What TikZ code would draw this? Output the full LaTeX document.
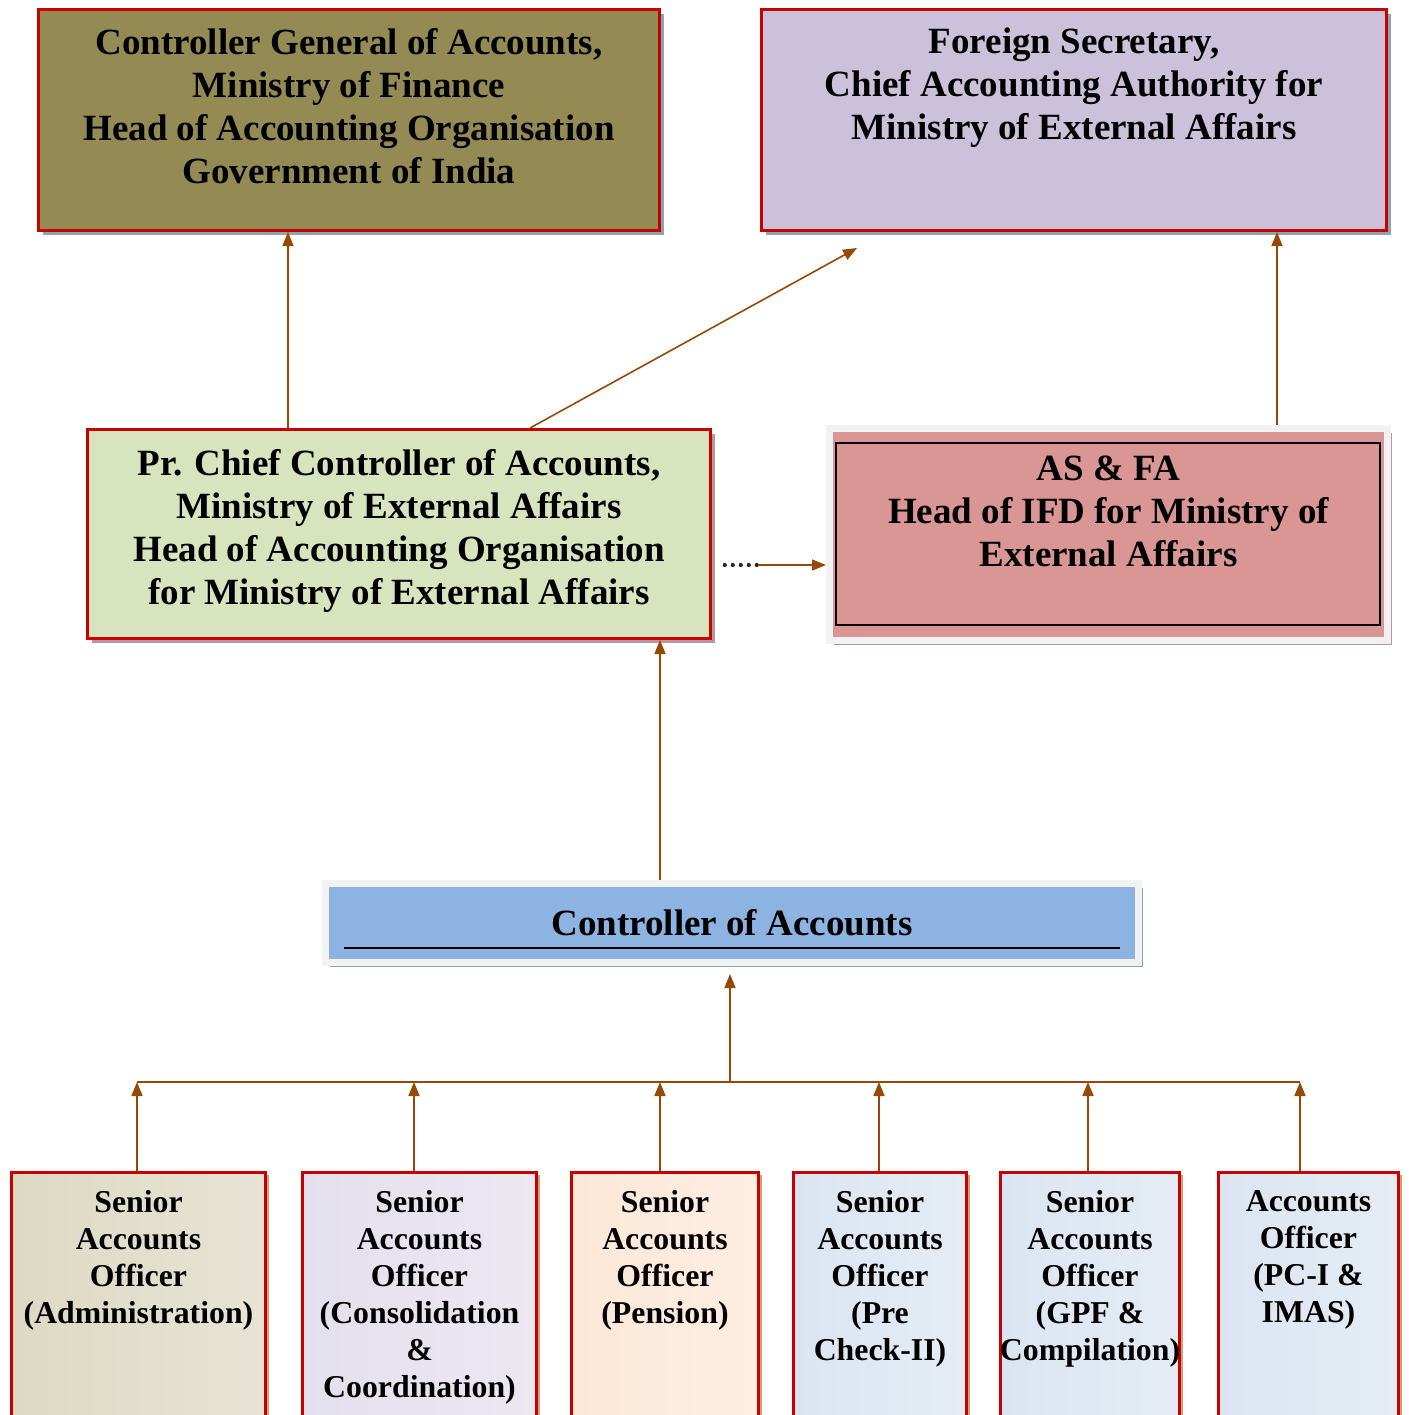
\documentclass[tikz,border=0pt]{standalone}
\usepackage{fontspec}
\setmainfont{Liberation Serif}
\usetikzlibrary{arrows.meta,shadows}

\begin{document}
\begin{tikzpicture}[x=0.5pt,y=-0.5pt]
            \definecolor{olivebox}{RGB}{148,138,84}
            \definecolor{lilacbox}{RGB}{204,193,218}
            \definecolor{greenbox}{RGB}{215,228,189}
            \definecolor{pinkbox}{RGB}{217,150,148}
            \definecolor{bluebox}{RGB}{141,179,226}
            \definecolor{boxred}{RGB}{200,0,0}
            \definecolor{arrowbrown}{RGB}{151,72,6}
            \definecolor{shadowblue}{RGB}{140,165,178}
            \definecolor{shadowmauve}{RGB}{185,150,158}
            \definecolor{shadowtan}{RGB}{210,160,120}
            \tikzstyle{posts} = [rectangle, draw=boxred, line width=1.5pt, inner sep=0pt]
            \tikzstyle{framed} = [rectangle, draw=gray!10, line width=3.5pt, inner sep=0pt]
            \tikzstyle{blueshadow} = [drop shadow={shadow xshift=2.25pt, shadow yshift=-2.25pt, fill=shadowblue, opacity=1}]
            \tikzstyle{mauveshadow} = [drop shadow={shadow xshift=2.25pt, shadow yshift=-2.25pt, fill=shadowmauve, opacity=1}]
            \tikzstyle{tanshadow} = [drop shadow={shadow xshift=1.5pt, shadow yshift=-1.5pt, fill=shadowtan, opacity=1}]
            \tikzstyle{lbl} = [anchor=north, align=center, inner sep=0pt,
                font=\fontsize{18.5}{21.5}\selectfont\bfseries]
            \tikzstyle{smalllbl} = [anchor=north, align=center, inner sep=0pt,
                font=\fontsize{15.9}{18.5}\selectfont\bfseries]
            \tikzstyle{officer} = [posts, tanshadow, anchor=north, minimum height=140pt]
            \tikzstyle{arrow} = [line width=0.8pt, arrowbrown, -{Triangle[length=7pt,width=5.5pt]}]
            \tikzstyle{busline} = [line width=0.8pt, arrowbrown]
            \tikzstyle{dots} = [line width=2.1pt, black!85, line cap=round, dash pattern=on 0pt off 4pt]

            \useasboundingbox (0,0) rectangle (1409,1415);
            \clip (0,0) rectangle (1409,1415);

            % top row
            \node (cga)[posts, blueshadow, fill=olivebox, minimum width=310.5pt, minimum height=110.5pt,
                label={[lbl, yshift=-9.9pt]north:{Controller General of Accounts,\\Ministry of Finance\\Head of Accounting Organisation\\Government of India}}] at (349,120) {};
            \node (fs)[posts, blueshadow, fill=lilacbox, minimum width=312.5pt, minimum height=110.5pt,
                label={[lbl, yshift=-9.9pt]north:{Foreign Secretary,\\Chief Accounting Authority for\\Ministry of External Affairs}}] at (1074,120) {};

            % middle row
            \node (pcca)[posts, mauveshadow, fill=greenbox, minimum width=311.5pt, minimum height=104.5pt,
                label={[lbl, yshift=-10.4pt]north:{Pr. Chief Controller of Accounts,\\Ministry of External Affairs\\Head of Accounting Organisation\\for Ministry of External Affairs}}] at (399,534) {};
            \node (asfa)[framed, mauveshadow, fill=pinkbox, minimum width=279pt, minimum height=106.25pt,
                label={[lbl, yshift=-15.5pt]north:{AS \& FA\\Head of IFD for Ministry of\\External Affairs}}] at (1108.5,534.25) {};
            \draw [black, line width=1pt] ([shift={(-272.5,-91)}]asfa.center) rectangle ([shift={(271.5,91)}]asfa.center);

            % controller of accounts
            \node (coa)[framed, blueshadow, fill=bluebox, minimum width=406.5pt, minimum height=39.5pt,
                font=\fontsize{18.5}{21.5}\selectfont\bfseries] at (732,923) {Controller of Accounts};
            \draw [black, line width=1pt] ([shift={(-388,25)}]coa.center) -- ([shift={(388,25)}]coa.center);

            % sections
            \node (b1)[officer, left color={rgb,255:red,221;green,217;blue,195}, right color={rgb,255:red,231;green,228;blue,213},
                minimum width=127pt, label={[smalllbl, yshift=-9.75pt]north:{Senior\\Accounts\\Officer\\(Administration)}}] at (138.5,1170.5) {};
            \node (b2)[officer, left color={rgb,255:red,228;green,223;blue,236}, right color={rgb,255:red,236;green,232;blue,242},
                minimum width=117pt, label={[smalllbl, yshift=-9.75pt]north:{Senior\\Accounts\\Officer\\(Consolidation\\\&\\Coordination)}}] at (419.5,1170.5) {};
            \node (b3)[officer, left color={rgb,255:red,252;green,232;blue,216}, right color={rgb,255:red,253;green,238;blue,226},
                minimum width=93.5pt, label={[smalllbl, yshift=-9.75pt]north:{Senior\\Accounts\\Officer\\(Pension)}}] at (665,1170.5) {};
            \node (b4)[officer, left color={rgb,255:red,219;green,229;blue,241}, right color={rgb,255:red,229;green,236;blue,245},
                minimum width=86.5pt, label={[smalllbl, yshift=-9.75pt]north:{Senior\\Accounts\\Officer\\(Pre\\Check-II)}}] at (880,1170.5) {};
            \node (b5)[officer, left color={rgb,255:red,219;green,229;blue,241}, right color={rgb,255:red,229;green,236;blue,245},
                minimum width=89.5pt, label={[smalllbl, yshift=-9.75pt]north:{Senior\\Accounts\\Officer\\(GPF \&\\Compilation)}}] at (1090,1170.5) {};
            \node (b6)[officer, left color={rgb,255:red,219;green,229;blue,241}, right color={rgb,255:red,229;green,236;blue,245},
                minimum width=90pt, label={[smalllbl, yshift=-9.75pt]north:{Accounts\\Officer\\(PC-I \&\\IMAS)}}] at (1308.5,1170.5) {};

            % reporting lines
            \coordinate (upcga) at (288,0);
            \coordinate (diag) at (530,0);
            \coordinate (upfs) at (857,248);
            \coordinate (upasfa) at (1277,0);
            \coordinate (upcoa) at (660,0);
            \coordinate (dotend) at (758,565);
            \draw [arrow] (pcca.north -| upcga) -- (cga.south -| upcga);
            \draw [arrow] (pcca.north -| diag) -- (upfs);
            \draw [arrow] (asfa.north -| upasfa) -- (fs.south -| upasfa);
            \draw [dots, shorten <=6.4pt] (pcca.east |- dotend) -- (dotend);
            \draw [arrow] (dotend) -- (asfa.west |- dotend);
            \draw [arrow] (coa.north -| upcoa) -- (pcca.south -| upcoa);

            % bus to the sections
            \coordinate (bus) at (730,1082);
            \coordinate (tap1) at (137,1082);
            \coordinate (tap2) at (414,1082);
            \coordinate (tap3) at (660,1082);
            \coordinate (tap4) at (879,1082);
            \coordinate (tap5) at (1088,1082);
            \coordinate (tap6) at (1300,1082);
            \draw [busline] (tap1) -- (tap6);
            \draw [arrow, shorten >=4pt] (bus) -- (coa.south -| bus);
            \draw [arrow] (b1.north -| tap1) -- (tap1);
            \draw [arrow] (b2.north -| tap2) -- (tap2);
            \draw [arrow] (b3.north -| tap3) -- (tap3);
            \draw [arrow] (b4.north -| tap4) -- (tap4);
            \draw [arrow] (b5.north -| tap5) -- (tap5);
            \draw [arrow] (b6.north -| tap6) -- (tap6);
\end{tikzpicture}
\end{document}
